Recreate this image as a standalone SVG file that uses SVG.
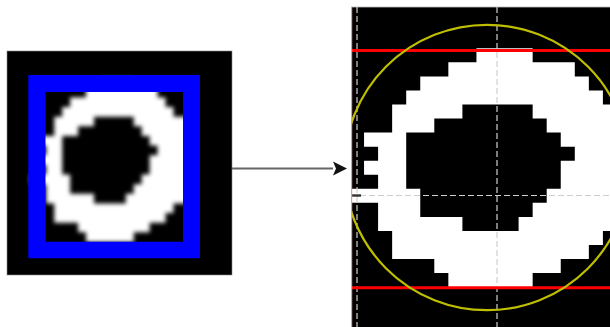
<svg xmlns="http://www.w3.org/2000/svg" width="610" height="327" viewBox="0 0 610 327">
  <style>
    .bg { fill: #000000; }
    .px { fill: #ffffff; }
    .guide { stroke: #cfcfcf; stroke-width: 1.2; stroke-dasharray: 6 3; fill: none; }
    .bbox { stroke: #ff0000; stroke-width: 3; fill: none; }
    .circ { stroke: #bfbf00; stroke-width: 2.2; fill: none; }
    .conn { stroke: #666666; stroke-width: 2; fill: none; }
  </style>
  <defs>
    <path id="ring" d="M9 0H13V1H9Z M7 1H16V2H7Z M5 2H17V3H5Z M4 3H18V4H4Z
      M3 4H8V5H3Z M13 4H20V5H13Z
      M3 5H6V6H3Z M14 5H20V6H14Z
      M1 6H4V7H1Z M15 6H20V7H15Z
      M2 7H4V8H2Z M16 7H20V8H16Z
      M1 8H4V9H1Z M15 8H20V9H15Z
      M2 9H4V10H2Z M15 9H20V10H15Z
      M0 10H5V11H0Z M14 10H20V11H14Z
      M2 11H5V12H2Z M13 11H20V12H13Z
      M2 12H8V13H2Z M12 12H20V13H12Z
      M3 13H18V14H3Z M3 14H17V15H3Z M6 15H15V16H6Z M7 16H13V17H7Z"/>
    <filter id="soft" x="-10%" y="-10%" width="120%" height="120%">
      <feGaussianBlur stdDeviation="1.9"/>
    </filter>
    <clipPath id="rclip">
      <rect x="351" y="7" width="259" height="320"/>
    </clipPath>
    <marker id="arrow" viewBox="0 -8 16 16" refX="0" refY="0" markerWidth="16" markerHeight="16" markerUnits="userSpaceOnUse" orient="auto">
      <path d="M0,-7 L14,0 L0,7 L3,0 Z" fill="#111111"/>
    </marker>
  </defs>

  <g id="input-image">
    <rect class="bg" x="7" y="51" width="225" height="224" stroke="#8a8a8a" stroke-width="0.6"/>
    <g filter="url(#soft)">
      <use href="#ring" class="px" transform="translate(30.4 78.2) scale(7.95 9.63)"/>
    </g>
    <path fill="#0000ff" fill-rule="evenodd" d="M28.3 75H200V258.3H28.3Z M45.5 92H183V241.8H45.5Z"/>
  </g>

  <g id="connectors">
    <line class="conn" x1="232" y1="168.5" x2="333" y2="168.5" marker-end="url(#arrow)"/>
  </g>

  <g id="output-image">
    <g clip-path="url(#rclip)">
      <rect class="bg" x="351" y="7" width="259" height="320"/>
      <use href="#ring" class="px" transform="translate(350 48.3) scale(14.05)"/>
      <line class="guide" x1="357" y1="7" x2="357" y2="327"/>
      <line class="guide" x1="497" y1="7" x2="497" y2="327"/>
      <line class="guide" x1="351" y1="195.5" x2="610" y2="195.5"/>
      <rect x="351" y="194.3" width="10" height="2.4" fill="#333333"/>
      <line class="bbox" x1="351" y1="50.4" x2="610" y2="50.4"/>
      <line class="bbox" x1="351" y1="287.7" x2="610" y2="287.7"/>
      <circle class="circ" cx="487" cy="167.5" r="142.7"/>
      <line x1="351.6" y1="7" x2="351.6" y2="327" stroke="#e89a9a" stroke-width="1.2"/>
    </g>
    <line x1="351" y1="7" x2="610" y2="7" stroke="#bbbbbb" stroke-width="0.8"/>
  </g>
</svg>
